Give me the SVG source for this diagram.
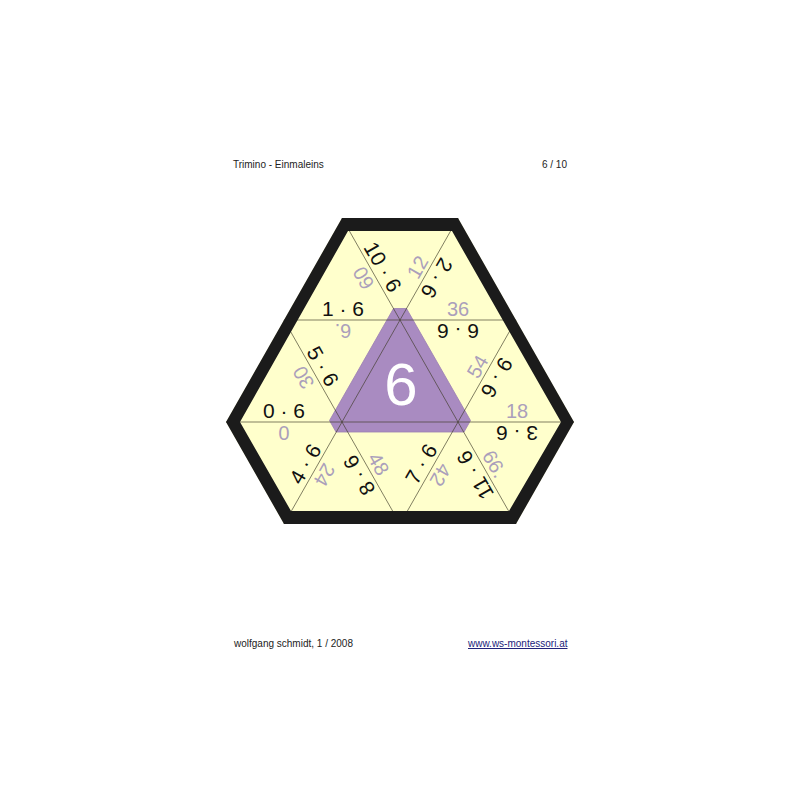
<svg xmlns="http://www.w3.org/2000/svg" width="800" height="800" viewBox="0 0 800 800">
<style>
.hdr{font-family:"Liberation Sans",Arial,sans-serif;font-size:10px;fill:#222}
.t{font-family:"Liberation Sans",Arial,sans-serif;font-size:21px;fill:#111;text-anchor:middle}
.a{font-family:"Liberation Sans",Arial,sans-serif;font-size:20px;fill:#ab9fbb;text-anchor:middle}
.g{stroke:#3d3a28;stroke-opacity:0.65;stroke-width:1;fill:none}
</style>
<rect width="800" height="800" fill="#ffffff"/>
<text class="hdr" x="233" y="168">Trimino - Einmaleins</text>
<text class="hdr" x="567" y="168" text-anchor="end">6 / 10</text>
<polygon id="board" points="342,218 458,218 574,422 516,524 284,524 226,422" fill="#ffffcc"/>
<g id="center">
<polygon points="393.5,308.5 406.5,308.5 470.5,420.5 464,432 336,432 329.5,420.5" fill="#a98bc1" stroke="#9a7db3" stroke-width="0.8"/>
</g>
<g id="connectors" class="g">
<line x1="284" y1="320" x2="516" y2="320"/>
<line x1="226" y1="422" x2="574" y2="422"/>
<line x1="342" y1="218" x2="516" y2="524"/>
<line x1="284" y1="320" x2="400" y2="524"/>
<line x1="458" y1="218" x2="284" y2="524"/>
<line x1="516" y1="320" x2="400" y2="524"/>
</g>
<text x="401" y="405" font-family="Liberation Sans,Arial,sans-serif" font-size="60" fill="#ffffff" text-anchor="middle">6</text>
<g id="e1"><text class="t" y="-4" transform="translate(373,272.5) rotate(60)">10 · 6</text><text class="a" y="-4" transform="translate(373,272.5) rotate(240)">60</text></g>
<g id="e2"><text class="a" y="-4" transform="translate(427,272.5) rotate(-60)">12</text><text class="t" y="-4" transform="translate(427,272.5) rotate(120)">2 · 6</text></g>
<g id="e3"><text class="t" y="-4" transform="translate(343,320)">1 · 6</text><text class="a" y="-4" transform="translate(343,320) rotate(180)">6.</text></g>
<g id="e4"><text class="a" y="-4" transform="translate(458,320)">36</text><text class="t" y="-4" transform="translate(458,320) rotate(180)">6 · 6</text></g>
<g id="e5"><text class="t" y="-4" transform="translate(313,372) rotate(60)">5 · 6</text><text class="a" y="-4" transform="translate(313,372) rotate(240)">30</text></g>
<g id="e6"><text class="a" y="-4" transform="translate(487,372) rotate(-60)">54</text><text class="t" y="-4" transform="translate(487,372) rotate(120)">9 · 6</text></g>
<g id="e7"><text class="t" y="-4" transform="translate(284,422)">0 · 6</text><text class="a" y="-4" transform="translate(284,422) rotate(180)">0</text></g>
<g id="e8"><text class="a" y="-4" transform="translate(517,422)">18</text><text class="t" y="-4" transform="translate(517,422) rotate(180)">3 · 6</text></g>
<g id="e9"><text class="t" y="-4" transform="translate(315,469.5) rotate(-60)">4 · 6</text><text class="a" y="-4" transform="translate(315,469.5) rotate(120)">24</text></g>
<g id="e10"><text class="a" y="-4" transform="translate(369,469.5) rotate(60)">48</text><text class="t" y="-4" transform="translate(369,469.5) rotate(240)">8 · 6</text></g>
<g id="e11"><text class="t" y="-4" transform="translate(431,469.5) rotate(-60)">7 · 6</text><text class="a" y="-4" transform="translate(431,469.5) rotate(120)">42</text></g>
<g id="e12"><text class="a" y="-4" transform="translate(485,469.5) rotate(60)">66.</text><text class="t" y="-4" transform="translate(485,469.5) rotate(240)">11 · 6</text></g>
<path id="frame" fill="#1b1b1b" fill-rule="evenodd" d="M342,218 L458,218 L574,422 L516,524 L284,524 L226,422 Z M348,231 L240,422 L291,511 L509,511 L561,422 L452,231 Z"/>
<text class="hdr" x="234" y="647">wolfgang schmidt, 1 / 2008</text>
<text class="hdr" x="468" y="647" style="fill:#22227a" text-decoration="underline">www.ws-montessori.at</text>
</svg>
